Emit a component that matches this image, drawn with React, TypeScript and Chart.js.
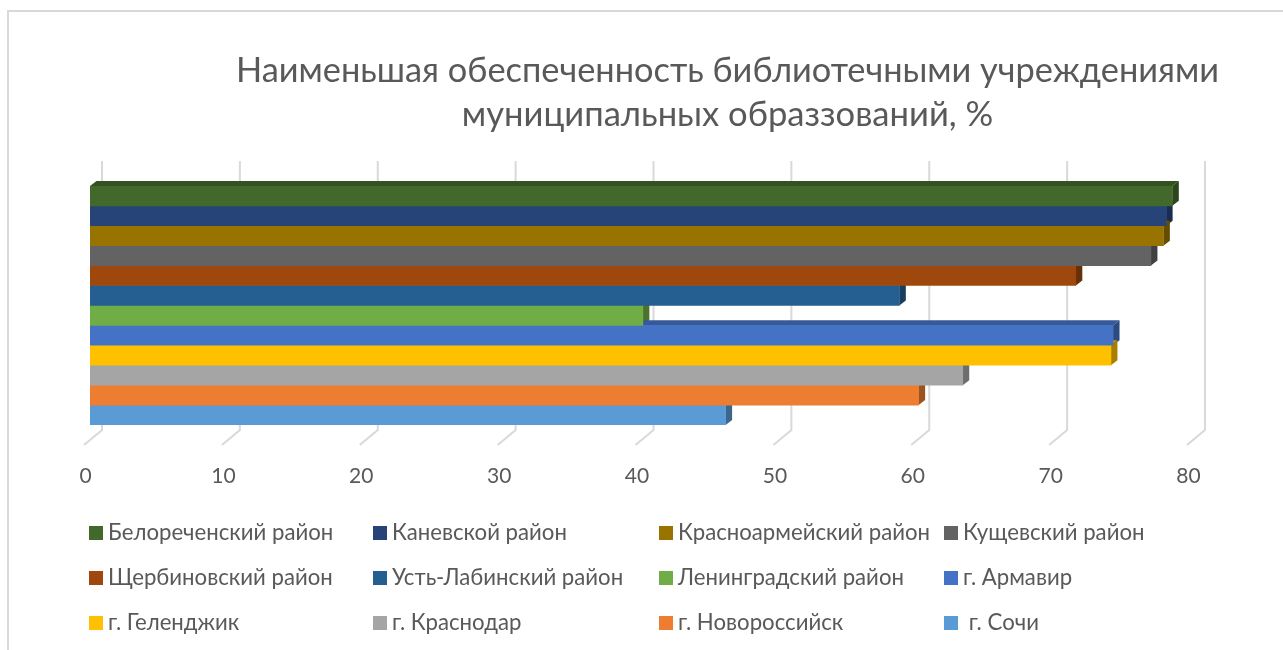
import React, { useEffect, useRef } from "react";
import { Chart, registerables } from "chart.js";

Chart.register(...registerables);

const titleLines = ["Наименьшая обеспеченность библиотечными учреждениями", "муниципальных образзований, %"];
const categories = [""];
const seriesNames = ["Белореченский район", "Каневской район", "Красноармейский район", "Кущевский район", "Щербиновский район", "Усть-Лабинский район", "Ленинградский район", "г. Армавир", "г. Геленджик", "г. Краснодар", "г. Новороссийск", " г. Сочи"];
const seriesValues = [78.5, 78.05, 77.85, 76.95, 71.5, 58.7, 40.1, 74.2, 74.05, 63.3, 60.1, 46.1];
const seriesColors = ["#43682B", "#264478", "#997300", "#636363", "#9E480E", "#255E91", "#70AD47", "#4472C4", "#FFC000", "#A5A5A5", "#ED7D31", "#5B9BD5"];

const FONT = "Lato, 'Open Sans', sans-serif";
const TEXT = "#595959";
const DX = 6.5, DY = 5;

function shade(hex: string, k: number) {
  const n = parseInt(hex.slice(1), 16);
  const c = [(n >> 16) & 255, (n >> 8) & 255, n & 255].map((v) => Math.round(v * k));
  return `rgb(${c[0]},${c[1]},${c[2]})`;
}

const frame = {
  id: "frame",
  beforeDraw(chart: any) {
    const c = chart.ctx;
    c.save();
    c.fillStyle = "#fff";
    c.fillRect(0, 0, chart.width, chart.height);
    c.strokeStyle = "#d9d9d9";
    c.lineWidth = 2;
    c.beginPath();
    c.moveTo(8, 650);
    c.lineTo(8, 11);
    c.lineTo(1283, 11);
    c.stroke();
    c.restore();
  },
};

const depth = {
  id: "depth",
  afterLayout(chart: any) {
    chart.titleBlock.left = 236;
    chart.titleBlock.right = 1219;
  },
  beforeDatasetsDraw(chart: any) {
    const c = chart.ctx;
    const x = chart.scales.x;
    c.save();
    c.strokeStyle = "#d9d9d9";
    c.lineWidth = 2;
    x.ticks.forEach((t: any) => {
      const px = x.getPixelForValue(t.value);
      c.beginPath();
      c.moveTo(px + 12, 161);
      c.lineTo(px + 12, 430);
      c.lineTo(px - 6, 445);
      c.stroke();
    });
    chart.data.datasets.forEach((ds: any, i: number) => {
      const b = chart.getDatasetMeta(i).data[0];
      const top = b.y - b.height / 2, bot = b.y + b.height / 2;
      const l = b.base, r = b.x;
      c.fillStyle = shade(ds.backgroundColor, 0.78);
      c.beginPath();
      c.moveTo(l, top);
      c.lineTo(l + DX, top - DY);
      c.lineTo(r + DX, top - DY);
      c.lineTo(r, top);
      c.fill();
      c.fillStyle = shade(ds.backgroundColor, 0.66);
      c.beginPath();
      c.moveTo(r, top);
      c.lineTo(r + DX, top - DY);
      c.lineTo(r + DX, bot - DY);
      c.lineTo(r, bot);
      c.fill();
    });
    c.restore();
  },
  afterDraw(chart: any) {
    const c = chart.ctx;
    const colX = [89, 373, 659, 944];
    const rowY = [533, 578, 623];
    c.save();
    c.font = `22.2px ${FONT}`;
    c.textBaseline = "middle";
    chart.data.datasets.forEach((ds: any, i: number) => {
      const x = colX[i % 4], y = rowY[Math.floor(i / 4)];
      c.fillStyle = ds.backgroundColor;
      c.fillRect(x, y - 7, 14, 14);
      c.fillStyle = TEXT;
      c.fillText(ds.label, x + 19, y);
    });
    c.restore();
  },
};

export default function App() {
  const ref = useRef<HTMLCanvasElement>(null);
  useEffect(() => {
    const chart = new Chart(ref.current!, {
      type: "bar",
      data: {
        labels: categories,
        datasets: seriesNames.map((label, i) => ({
          label,
          data: [seriesValues[i]],
          backgroundColor: seriesColors[i],
          barPercentage: 1,
          categoryPercentage: 1,
        })),
      },
      options: {
        indexAxis: "y",
        responsive: false,
        animation: false,
        layout: { padding: { left: 90, right: 90, top: 0, bottom: 0 } },
        plugins: {
          legend: { display: false },
          tooltip: { enabled: false },
          title: {
            display: true,
            text: titleLines,
            color: TEXT,
            font: { family: FONT, size: 34.6, weight: "normal", lineHeight: 1.27 },
            padding: { top: 49, bottom: 49 },
          },
        },
        scales: {
          y: { display: false },
          x: {
            min: 0,
            max: 80,
            border: { display: false },
            grid: { display: false },
            afterFit(scale: any) {
              scale.height = 225;
            },
            ticks: {
              stepSize: 10,
              color: TEXT,
              labelOffset: -4.5,
              padding: 31,
              maxRotation: 0,
              font: { family: FONT, size: 21 },
            },
          },
        },
      } as any,
      plugins: [frame, depth],
    });
    return () => chart.destroy();
  }, []);
  return (
    <div style={{ position: "absolute", left: 0, top: 0, width: 1283, height: 650 }}>
      <canvas ref={ref} width={1283} height={650} style={{ display: "block" }} />
    </div>
  );
}
